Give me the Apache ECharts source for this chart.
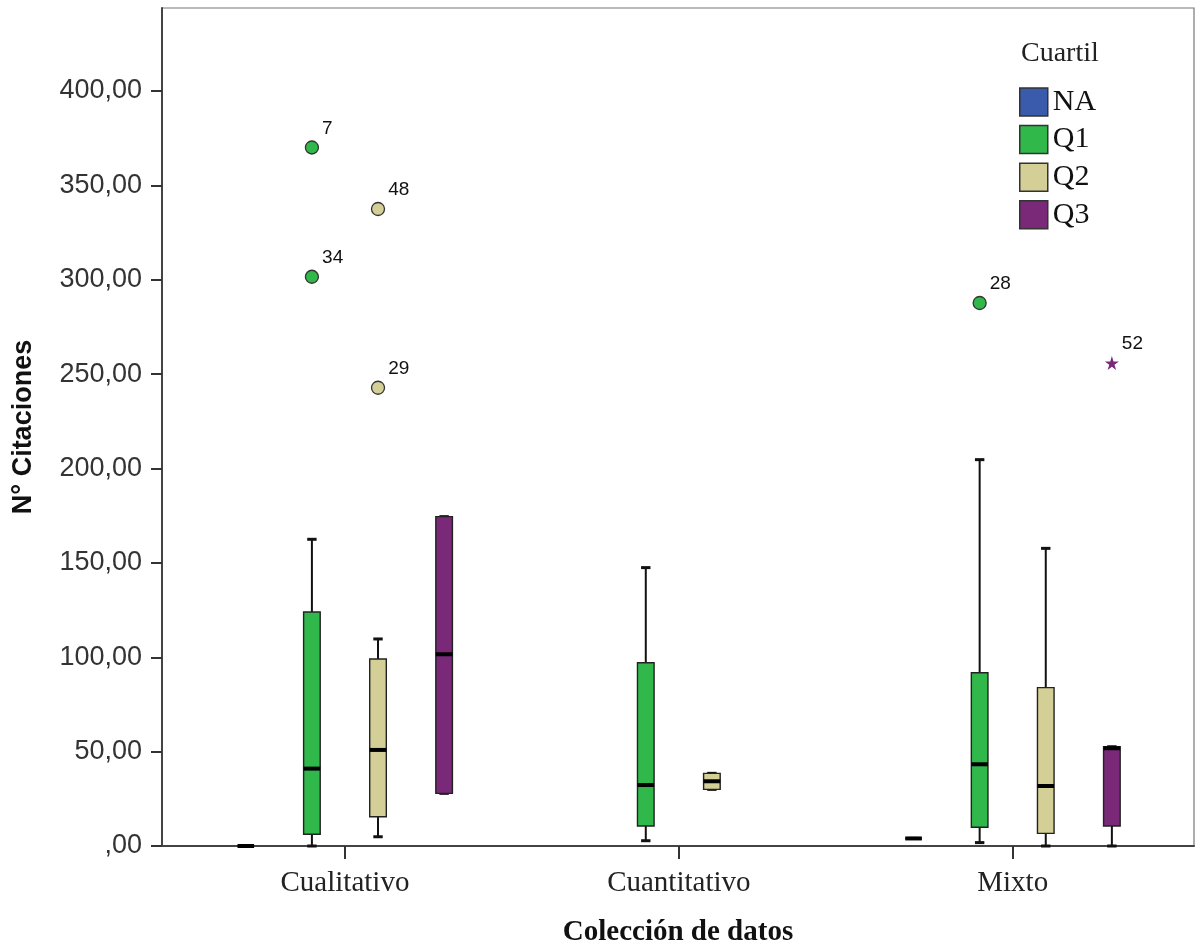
<!DOCTYPE html>
<html>
<head>
<meta charset="utf-8">
<script src="https://cdn.jsdelivr.net/npm/echarts@6/dist/echarts.min.js"></script>
<style>
  html, body { margin: 0; padding: 0; background: #fff; }
  #chart { width: 1195px; height: 948px; }
</style>
</head>
<body>
<div id="chart"></div>
<script>
// ---------------- DATA ----------------
const categories = ['Cualitativo', 'Cuantitativo', 'Mixto'];
const quartiles = ['NA', 'Q1', 'Q2', 'Q3'];
const yTickValues = [0, 50, 100, 150, 200, 250, 300, 350, 400];

// [min, Q1, median, Q3, max] per category (null = group absent)
const boxNA = [[0, 0, 0, 0, 0], null, [4, 4, 4, 4, 4]];
const boxQ1 = [[0, 6.2, 41, 124, 162.5], [2.8, 10.6, 32.3, 97.1, 147.5], [1.8, 9.9, 43.3, 91.8, 204.7]];
const boxQ2 = [[4.9, 15.5, 50.9, 99.1, 109.7], [30, 30, 34.3, 38.5, 38.5], [0, 6.7, 31.8, 83.9, 157.7]];
const boxQ3 = [[27.9, 27.9, 101.6, 174.5, 174.5], null, [0, 10.6, 51.8, 52.6, 52.6]];

// outliers
const outlierCategory = [0, 0, 0, 0, 2, 2];
const outlierQuartile = ['Q1', 'Q1', 'Q2', 'Q2', 'Q1', 'Q3'];
const outlierValue = [370.1, 301.6, 337.5, 242.8, 287.7, 255.9];
const outlierCase = ['7', '34', '48', '29', '28', '52'];
const outlierExtreme = [false, false, false, false, false, true];

// ---------------- STYLE / LAYOUT ----------------
const colors = { NA: '#3a5aac', Q1: '#30b84a', Q2: '#d4cf96', Q3: '#7a2878' };
const slotStep = 0.198;        // horizontal distance between group slots (axis units)
const boxHalf = 8.3;           // px
const capHalf = 4.7;           // px
const starPath = 'path://M50,0 L61,35 L98,35 L68,57 L79,91 L50,70 L21,91 L32,57 L2,35 L39,35 Z';

const boxData = { NA: boxNA, Q1: boxQ1, Q2: boxQ2, Q3: boxQ3 };

function slotX(catIdx, q) {
  const present = quartiles.filter(k => boxData[k][catIdx]);
  const i = present.indexOf(q);
  return catIdx + (i - (present.length - 1) / 2) * slotStep;
}

function renderBox(params, api) {
  const x = api.value(0);
  const vMin = api.value(1), vQ1 = api.value(2), vMed = api.value(3), vQ3 = api.value(4), vMax = api.value(5);
  const pMin = api.coord([x, vMin]);
  const pQ1 = api.coord([x, vQ1]);
  const pMed = api.coord([x, vMed]);
  const pQ3 = api.coord([x, vQ3]);
  const pMax = api.coord([x, vMax]);
  const cx = pMed[0];
  const color = api.visual('color');
  const ink = '#111';
  const children = [];
  children.push({ type: 'line', shape: { x1: cx, y1: pMax[1], x2: cx, y2: pQ3[1] }, style: { stroke: ink, lineWidth: 2 } });
  children.push({ type: 'line', shape: { x1: cx, y1: pQ1[1], x2: cx, y2: pMin[1] }, style: { stroke: ink, lineWidth: 2 } });
  children.push({ type: 'line', shape: { x1: cx - capHalf, y1: pMax[1], x2: cx + capHalf, y2: pMax[1] }, style: { stroke: ink, lineWidth: 3 } });
  children.push({ type: 'line', shape: { x1: cx - capHalf, y1: pMin[1], x2: cx + capHalf, y2: pMin[1] }, style: { stroke: ink, lineWidth: 3 } });
  children.push({ type: 'rect', shape: { x: cx - boxHalf, y: pQ3[1], width: boxHalf * 2, height: pQ1[1] - pQ3[1] },
                  style: { fill: color, stroke: '#222', lineWidth: 1.4 } });
  children.push({ type: 'line', shape: { x1: cx - boxHalf, y1: pMed[1], x2: cx + boxHalf, y2: pMed[1] }, style: { stroke: '#000', lineWidth: 4 } });
  return { type: 'group', children };
}

const boxSeries = quartiles.map(q => ({
  type: 'custom',
  name: q,
  itemStyle: { color: colors[q] },
  renderItem: renderBox,
  clip: false,
  encode: { x: 0, y: [1, 2, 3, 4, 5] },
  data: boxData[q].map((b, i) => b ? [slotX(i, q)].concat(b) : null).filter(Boolean),
  z: 2
}));

const outlierSeries = quartiles.map(q => {
  const data = [];
  outlierValue.forEach((v, i) => {
    if (outlierQuartile[i] !== q) return;
    const ext = outlierExtreme[i];
    data.push({
      name: outlierCase[i],
      value: [slotX(outlierCategory[i], q), v],
      symbol: ext ? starPath : 'circle',
      symbolSize: ext ? 14 : 13,
      itemStyle: ext ? { color: colors[q], borderWidth: 0, opacity: 1 } : { color: colors[q], borderColor: '#333', borderWidth: 1.3, opacity: 1 }
    });
  });
  return {
    type: 'scatter',
    name: q,
    data,
    z: 3,
    itemStyle: { opacity: 1 },
    label: {
      show: true, formatter: '{b}', position: 'right', distance: 3, offset: [0, -19],
      fontFamily: 'Liberation Sans', fontSize: 19, color: '#111', opacity: 1
    }
  };
}).filter(s => s.data.length);

const fmtY = v => v === 0 ? ',00' : v.toFixed(2).replace('.', ',');

const option = {
  backgroundColor: '#fff',
  animation: false,
  title: {
    text: 'Cuartil', left: 1021, top: 40, padding: 0,
    textStyle: { fontFamily: 'Liberation Serif', fontWeight: 'normal', fontSize: 28, color: '#222' }
  },
  legend: {
    orient: 'vertical', left: 1019, top: 87, padding: 0,
    itemWidth: 28, itemHeight: 28, itemGap: 7.6,
    selectedMode: false,
    textStyle: { fontFamily: 'Liberation Serif', fontSize: 30, color: '#111', padding: [0, 0, 0, 0] },
    data: quartiles.map(q => ({ name: q, icon: 'rect', itemStyle: { color: colors[q], borderColor: '#333', borderWidth: 1.5 } }))
  },
  grid: { left: 162, right: 1, top: 8, bottom: 102, show: true, borderColor: '#777', borderWidth: 1.2,
          containLabel: false, outerBoundsMode: 'none' },
  xAxis: {
    type: 'value', min: -0.548, max: 2.543,
    splitLine: { show: false },
    axisLine: { show: true, onZero: false, lineStyle: { color: '#444', width: 2 } },
    axisTick: { show: true, length: 13, customValues: [0, 1, 2], lineStyle: { color: '#333', width: 2 } },
    axisLabel: {
      customValues: [0, 1, 2], formatter: v => categories[Math.round(v)], margin: 23,
      fontFamily: 'Liberation Serif', fontSize: 29, color: '#222'
    },
    name: 'Colección de datos', nameLocation: 'middle', nameGap: 72,
    nameTextStyle: { fontFamily: 'Liberation Serif', fontWeight: 'bold', fontSize: 29, color: '#111' }
  },
  yAxis: {
    type: 'value', min: 0, max: 444,
    splitLine: { show: false },
    axisLine: { show: true, onZero: false, lineStyle: { color: '#444', width: 2 } },
    axisTick: { show: true, length: 11, customValues: yTickValues, lineStyle: { color: '#333', width: 2 } },
    axisLabel: {
      customValues: yTickValues, formatter: fmtY, margin: 20, padding: [6, 0, 0, 0],
      fontFamily: 'Liberation Sans', fontSize: 27, color: '#333'
    },
    name: 'N° Citaciones', nameLocation: 'middle', nameRotate: 90, nameGap: 125,
    nameTextStyle: { fontFamily: 'Liberation Sans', fontWeight: 'bold', fontSize: 27, color: '#111' }
  },
  series: boxSeries.concat(outlierSeries)
};

const chart = echarts.init(document.getElementById('chart'), null, { renderer: 'canvas' });
chart.setOption(option);
</script>
</body>
</html>
